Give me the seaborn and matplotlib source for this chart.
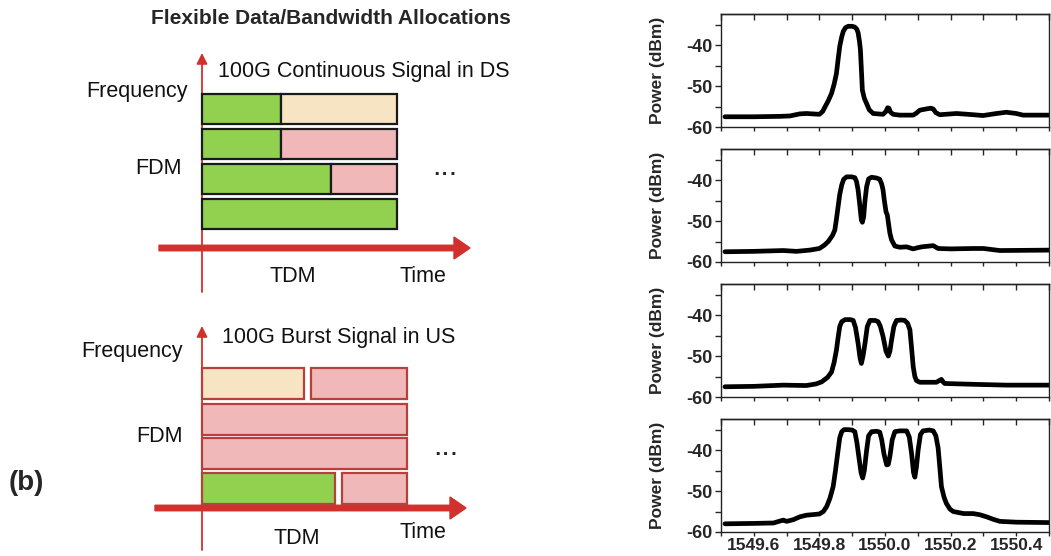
import matplotlib
matplotlib.use("Agg")
import matplotlib.pyplot as plt
import seaborn as sns
from matplotlib.ticker import MultipleLocator

# ---- spectra: wavelength (nm) / power (dBm) ----
wl_1 = [1549.512, 1549.6, 1549.68, 1549.71, 1549.74, 1549.76, 1549.80, 1549.81, 1549.817,
        1549.827, 1549.837, 1549.845, 1549.852, 1549.857, 1549.862, 1549.868, 1549.873,
        1549.88, 1549.888, 1549.9, 1549.908, 1549.914, 1549.918, 1549.922, 1549.925,
        1549.928, 1549.931, 1549.937, 1549.944, 1549.952, 1549.964, 1549.994, 1550.003,
        1550.008, 1550.012, 1550.017, 1550.025, 1550.045, 1550.086, 1550.096, 1550.106,
        1550.125, 1550.14, 1550.147, 1550.155, 1550.167, 1550.218, 1550.269, 1550.299,
        1550.34, 1550.37, 1550.40, 1550.421, 1550.5]
p_1 = [-57.5, -57.5, -57.4, -57.3, -56.8, -56.7, -56.9, -56.2, -55.1,
       -53.6, -51.8, -49.5, -46.9, -43.5, -40.3, -38.0, -36.6,
       -35.7, -35.4, -35.4, -35.6, -36.1, -37.0, -39.0, -41.1,
       -46.0, -51.0, -53.0, -54.3, -55.8, -56.7, -56.9, -56.2,
       -55.3, -55.4, -56.4, -56.9, -57.1, -57.1, -56.6, -55.9,
       -55.6, -55.4, -55.6, -56.5, -57.0, -56.7, -57.0, -57.2,
       -56.7, -56.4, -56.7, -57.1, -57.1]

wl_2 = [1549.512, 1549.60, 1549.69, 1549.73, 1549.77, 1549.80, 1549.815, 1549.827, 1549.84,
        1549.847, 1549.852, 1549.857, 1549.862, 1549.868, 1549.874, 1549.883, 1549.898,
        1549.908, 1549.913, 1549.918, 1549.923, 1549.928, 1549.931, 1549.935, 1549.939,
        1549.944, 1549.950, 1549.959, 1549.975, 1549.984, 1549.99, 1549.994, 1549.998,
        1550.003, 1550.007, 1550.01, 1550.015, 1550.02, 1550.03, 1550.045, 1550.066,
        1550.086, 1550.1, 1550.112, 1550.147, 1550.162, 1550.2, 1550.269, 1550.30,
        1550.35, 1550.5]
p_2 = [-57.5, -57.4, -57.2, -57.4, -57.1, -56.7, -55.9, -55.0, -53.5,
       -52.2, -49.5, -46.5, -43.5, -41.2, -39.8, -39.2, -39.2,
       -39.4, -40.3, -42.4, -46.0, -49.8, -50.3, -48.9, -45.0,
       -41.6, -39.7, -39.3, -39.5, -39.8, -41.0, -42.4, -45.0,
       -47.7, -48.5, -50.2, -53.0, -54.6, -56.1, -56.4, -56.3,
       -56.8, -56.5, -56.3, -56.0, -56.7, -56.8, -56.7, -56.7,
       -57.2, -57.1]

wl_3 = [1549.512, 1549.6, 1549.69, 1549.76, 1549.79, 1549.807, 1549.825, 1549.837, 1549.845,
        1549.852, 1549.857, 1549.862, 1549.868, 1549.878, 1549.895, 1549.903, 1549.91,
        1549.918, 1549.924, 1549.928, 1549.933, 1549.939, 1549.946, 1549.954, 1549.97,
        1549.979, 1549.986, 1549.994, 1550.003, 1550.01, 1550.015, 1550.02, 1550.027,
        1550.035, 1550.05, 1550.06, 1550.069, 1550.076, 1550.081, 1550.086, 1550.091,
        1550.096, 1550.106, 1550.116, 1550.157, 1550.165, 1550.172, 1550.178, 1550.182,
        1550.269, 1550.37, 1550.5]
p_3 = [-57.5, -57.4, -57.1, -57.2, -56.8, -56.3, -55.2, -53.9, -51.5,
       -48.5, -45.5, -42.8, -41.6, -41.1, -41.1, -41.3, -43.0,
       -46.9, -50.5, -51.8, -50.0, -46.9, -42.8, -41.3, -41.3,
       -41.6, -42.8, -45.2, -48.8, -50.0, -48.8, -46.1, -42.8,
       -41.3, -41.2, -41.3, -42.0, -43.6, -48.0, -52.6, -55.0,
       -56.0, -56.4, -56.4, -56.4, -56.0, -55.7, -56.4, -56.7,
       -56.9, -57.1, -57.1]

wl_4 = [1549.512, 1549.6, 1549.66, 1549.685, 1549.69, 1549.70, 1549.72, 1549.74, 1549.76,
        1549.80, 1549.812, 1549.822, 1549.832, 1549.842, 1549.849, 1549.857, 1549.862,
        1549.868, 1549.875, 1549.888, 1549.9, 1549.908, 1549.914, 1549.92, 1549.927,
        1549.932, 1549.937, 1549.944, 1549.95, 1549.959, 1549.975, 1549.984, 1549.99,
        1549.997, 1550.005, 1550.01, 1550.015, 1550.022, 1550.03, 1550.045, 1550.066,
        1550.074, 1550.081, 1550.087, 1550.091, 1550.096, 1550.101, 1550.108, 1550.116,
        1550.135, 1550.147, 1550.155, 1550.162, 1550.168, 1550.172, 1550.18, 1550.187,
        1550.198, 1550.208, 1550.24, 1550.269, 1550.29, 1550.31, 1550.33, 1550.35,
        1550.4, 1550.5]
p_4 = [-58.0, -57.9, -57.8, -57.2, -57.1, -57.4, -57.0, -56.3, -55.9,
       -55.6, -55.0, -53.8, -51.8, -48.9, -45.0, -40.0, -37.0,
       -35.5, -35.0, -35.0, -35.1, -35.5, -38.0, -41.5, -45.5,
       -46.8, -45.0, -40.0, -36.5, -35.5, -35.4, -35.6, -37.5,
       -41.0, -43.6, -43.5, -41.5, -37.5, -35.5, -35.3, -35.3,
       -36.8, -40.8, -45.5, -46.6, -44.0, -40.0, -36.2, -35.3,
       -35.1, -35.3, -36.5, -39.5, -45.0, -48.9, -51.5, -53.0,
       -54.4, -55.0, -55.5, -55.5, -55.8, -56.3, -56.9, -57.4,
       -57.6, -57.7]

spectra = [(wl_1, p_1), (wl_2, p_2), (wl_3, p_3), (wl_4, p_4)]
x_ticks = [1549.6, 1549.8, 1550.0, 1550.2, 1550.4]
y_ticks = [-60, -50, -40]

# ---- allocation diagrams: per row, segments as (start, end, colour key) on a 0..1 time axis ----
ds_rows = [[(0.0, 0.405, "green"), (0.405, 1.0, "beige")],
           [(0.0, 0.405, "green"), (0.405, 1.0, "pink")],
           [(0.0, 0.66, "green"), (0.66, 1.0, "pink")],
           [(0.0, 1.0, "green")]]
us_rows = [[(0.0, 0.498, "beige"), (0.532, 1.0, "pink")],
           [(0.0, 1.0, "pink")],
           [(0.0, 1.0, "pink")],
           [(0.0, 0.649, "green"), (0.683, 1.0, "pink")]]

colors = {"green": "#92D050", "beige": "#F6E4C2", "pink": "#F0B8B8"}
red = "#D2302C"

sns.set_style("white")
plt.rcParams["font.family"] = ["Liberation Sans", "DejaVu Sans"]
plt.rcParams["axes.unicode_minus"] = False

fig = plt.figure(figsize=(10.51, 5.56), dpi=100)

# overlay axes in pixel units for the schematic part
ax0 = fig.add_axes([0, 0, 1, 1])
ax0.set_xlim(0, 1051)
ax0.set_ylim(556, 0)
ax0.axis("off")


def draw_diagram(ax, rows, x0, width, tops, height, edge, arr_y, arr_x0, arr_x1, v_top, v_bot):
    # thick time arrow
    ax.arrow(arr_x0, arr_y, arr_x1 - arr_x0 - 16, 0, width=5.5, head_width=22,
             head_length=16, color=red, length_includes_head=False, zorder=1)
    # thin frequency arrow
    ax.annotate("", xy=(x0, v_top), xytext=(x0, v_bot),
                arrowprops=dict(arrowstyle="-|>", color=red, lw=1.3,
                                mutation_scale=16, shrinkA=0, shrinkB=0), zorder=2)
    for top, segs in zip(tops, rows):
        for s, e, c in segs:
            ax.barh(top + height / 2, (e - s) * width, left=x0 + s * width, height=height,
                    color=colors[c], edgecolor=edge, linewidth=1.6, zorder=3)


draw_diagram(ax0, ds_rows, 202, 195, [94, 129, 164, 199], 30, "#1a1a1a",
             248, 159, 470, 53, 292)
draw_diagram(ax0, us_rows, 202, 205, [368, 403.5, 437.5, 473], 31, "#B5403E",
             508, 155, 466, 326, 550)

txt = dict(fontsize=15.5, color="#111111")
ax0.text(331, 19, "Flexible Data/Bandwidth Allocations", fontsize=15, fontweight="bold",
         ha="center", va="center")
ax0.text(218, 72, "100G Continuous Signal in DS", ha="left", va="center", **txt)
ax0.text(188, 92, "Frequency", ha="right", va="center", **txt)
ax0.text(182, 168, "FDM", ha="right", va="center", **txt)
ax0.text(445, 167, "...", ha="center", va="center", fontsize=22)
ax0.text(293, 276, "TDM", ha="center", va="center", **txt)
ax0.text(423, 277, "Time", ha="center", va="center", **txt)

ax0.text(222, 337, "100G Burst Signal in US", ha="left", va="center", **txt)
ax0.text(183, 352, "Frequency", ha="right", va="center", **txt)
ax0.text(183, 437, "FDM", ha="right", va="center", **txt)
ax0.text(446, 447, "...", ha="center", va="center", fontsize=22)
ax0.text(297, 538, "TDM", ha="center", va="center", **txt)
ax0.text(423, 533, "Time", ha="center", va="center", **txt)
ax0.text(26, 483, "(b)", ha="center", va="center", fontsize=20, fontweight="bold")

# ---- spectra panels ----
panel_px = [(14, 127), (149, 262), (284, 397), (419, 532)]
left_px, right_px = 721, 1049
for i, ((wl, pw), (top, bot)) in enumerate(zip(spectra, panel_px)):
    ax = fig.add_axes([left_px / 1051, (556 - bot) / 556,
                       (right_px - left_px) / 1051, (bot - top) / 556])
    sns.lineplot(x=wl, y=pw, ax=ax, color="black", linewidth=3.4, sort=False)
    ax.lines[0].set_solid_joinstyle("round")
    ax.lines[0].set_solid_capstyle("round")
    ax.set_xlim(1549.5, 1550.5)
    ax.set_ylim(-60, -32.4)
    ax.set_xticks(x_ticks)
    ax.xaxis.set_minor_locator(MultipleLocator(0.1))
    ax.set_yticks(y_ticks)
    ax.set_yticklabels([str(v) for v in y_ticks])
    ax.yaxis.set_minor_locator(MultipleLocator(5))
    ax.tick_params(axis="x", which="both", bottom=True, top=False, direction="out",
                   length=3, width=1, labelsize=12.5, pad=1.5)
    ax.tick_params(axis="y", which="both", left=True, direction="out",
                   length=4, width=1, labelsize=13, pad=2)
    # inward ticks along the top edge
    top_ax = ax.secondary_xaxis("top")
    top_ax.set_xticks(x_ticks)
    top_ax.xaxis.set_minor_locator(MultipleLocator(0.1))
    top_ax.tick_params(axis="x", which="both", direction="in", length=4, width=1,
                       labeltop=False)
    top_ax.spines["top"].set_linewidth(1.0)
    if i < 3:
        ax.set_xticklabels([])
    else:
        ax.set_xticklabels([f"{v:.1f}" for v in x_ticks])
    for t in ax.get_xticklabels() + ax.get_yticklabels():
        t.set_fontweight("bold")
    for sp in ax.spines.values():
        sp.set_visible(True)
        sp.set_color("#222222")
        sp.set_linewidth(1.0)
    ax.set_ylabel("Power (dBm)", fontsize=12.5, fontweight="bold")
    ax.yaxis.set_label_coords(-0.17, 0.5)
    ax.set_xlabel("")
    ax.patch.set_alpha(0)

fig.savefig("out.png", dpi=100)
